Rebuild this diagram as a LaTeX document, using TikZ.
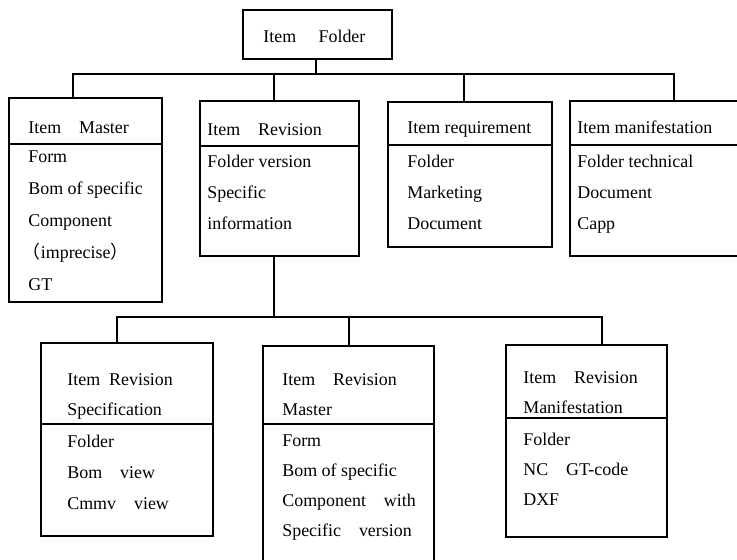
\documentclass[tikz,border=0pt]{standalone}
\usepackage{fontspec}
\setmainfont{Liberation Serif}
\newfontfamily\cjk{Noto Sans CJK SC}
\usepackage{tikz}
\usetikzlibrary{fit}
\tikzstyle{box} = [draw, line width=1.1pt, inner sep=0pt]
\tikzstyle{txt} = [anchor=west, inner sep=0pt, text height=0.66em, text depth=0pt, font=\fontsize{10.2pt}{12pt}\selectfont]
\tikzstyle{link} = [line width=0.9pt]
\tikzstyle{sep} = [line width=0.7pt]

\begin{document}
\begin{tikzpicture}[x=0.02cm,y=-0.02cm]
\useasboundingbox (0,0) rectangle (737,559);
\clip (0,0) rectangle (737,559);

% boxes
\node[box, fit={(243,10) (392,59)}] (folder) {};
\node[box, fit={(9,98) (162,302)}] (master) {};
\node[box, fit={(200,101) (359,256)}] (revision) {};
\node[box, fit={(388,102) (552,247)}] (reqmt) {};
\node[box, fit={(570,101) (748,256)}] (manif) {};
\node[box, fit={(41,343) (213,536)}] (spec) {};
\node[box, fit={(263,346) (434,580)}] (rmaster) {};
\node[box, fit={(506,345) (667,537)}] (rmanif) {};

% header lines
\draw[sep] (master.west |- 0,144) -- (master.east |- 0,144);
\draw[sep] (revision.west |- 0,146) -- (revision.east |- 0,146);
\draw[sep] (reqmt.west |- 0,145) -- (reqmt.east |- 0,145);
\draw[sep] (manif.west |- 0,145) -- (manif.east |- 0,145);
\draw[sep] (spec.west |- 0,424) -- (spec.east |- 0,424);
\draw[sep] (rmaster.west |- 0,424) -- (rmaster.east |- 0,424);
\draw[sep] (rmanif.west |- 0,418) -- (rmanif.east |- 0,418);

% connectors
\coordinate (bus1) at (316,74);
\draw[link] (316,0 |- folder.south) -- (bus1);
\draw[link] (73,0 |- master.north) |- (bus1) -| (674,0 |- manif.north);
\draw[link] (274,0 |- revision.north) -- (274,0 |- bus1);
\draw[link] (464,0 |- reqmt.north) -- (464,0 |- bus1);

\coordinate (bus2) at (274,317);
\draw[link] (274,0 |- revision.south) -- (bus2);
\draw[link] (117,0 |- spec.north) |- (bus2) -| (602,0 |- rmanif.north);
\draw[link] (349,0 |- rmaster.north) -- (349,0 |- bus2);

% texts
\node[txt] (t0) at (263,37) {Item\quad\ Folder};

\node[txt] (h1) at (28,128) {Item\quad Master};
\foreach \t [count=\i] in {Form, Bom of specific, Component, {\hspace{-0.3em}{\cjk （}imprecise{\cjk ）}}, GT}
  \node[txt] (m\i) at (28,{157+32*(\i-1)}) {\t};

\node[txt] (h2) at (207,130) {Item\quad Revision};
\foreach \t [count=\i] in {Folder version, Specific, information}
  \node[txt] (r\i) at (207,{162+31*(\i-1)}) {\t};

\node[txt] (h3) at (407,128) {Item requirement};
\foreach \t [count=\i] in {Folder, Marketing, Document}
  \node[txt] (q\i) at (407,{162+31*(\i-1)}) {\t};

\node[txt] (h4) at (577,128) {Item manifestation};
\foreach \t [count=\i] in {Folder technical, Document, Capp}
  \node[txt] (f\i) at (577,{162+31*(\i-1)}) {\t};

\node[txt] (h5) at (67,380) {Item\enspace Revision};
\node[txt] (h5b) at (67,410) {Specification};
\foreach \t [count=\i] in {Folder, Bom\quad view, Cmmv\quad view}
  \node[txt] (s\i) at (67,{442+31*(\i-1)}) {\t};

\node[txt] (h6) at (282,380) {Item\quad Revision};
\node[txt] (h6b) at (282,410) {Master};
\foreach \t [count=\i] in {Form, Bom of specific, Component\quad with, Specific\quad version}
  \node[txt] (v\i) at (282,{441+30*(\i-1)}) {\t};

\node[txt] (h7) at (523,378) {Item\quad Revision};
\node[txt] (h7b) at (523,408) {Manifestation};
\foreach \t [count=\i] in {Folder, NC\quad GT-code, DXF}
  \node[txt] (n\i) at (523,{440+30*(\i-1)}) {\t};

\end{tikzpicture}
\end{document}
